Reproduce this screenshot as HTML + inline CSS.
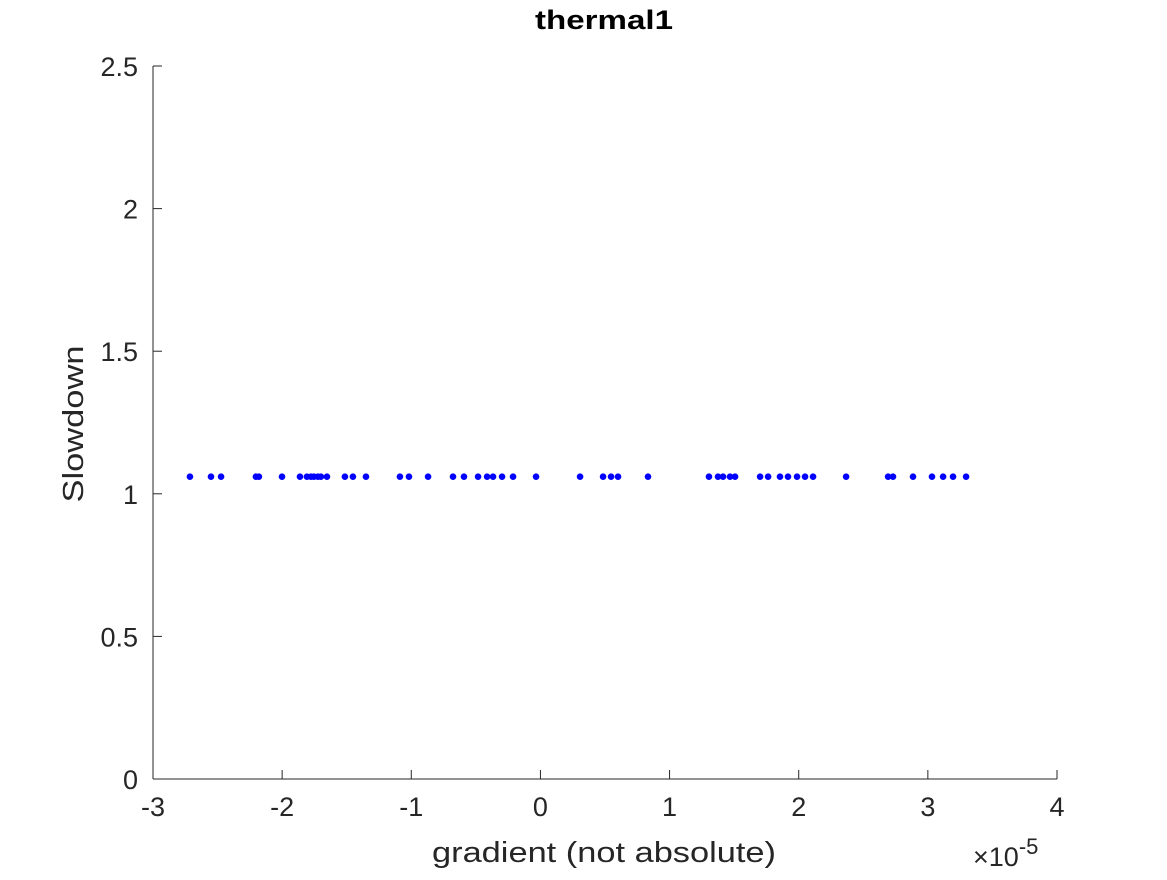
<!DOCTYPE html>
<html><head><meta charset="utf-8"><style>
body{margin:0;background:#fff;width:1167px;height:875px;overflow:hidden}
svg text{font-family:"Liberation Sans",Helvetica,Arial,sans-serif;fill:#262626}
</style></head><body>
<svg id="chart" width="1167" height="875" xmlns="http://www.w3.org/2000/svg">
<rect width="1167" height="875" fill="#fff"/>
<g id="axes"></g>
<g id="pts"></g>
<text x="604" y="29" text-anchor="middle" font-size="27" font-weight="bold" textLength="138" lengthAdjust="spacingAndGlyphs" style="fill:#000">thermal1</text>
<text x="604" y="862" text-anchor="middle" font-size="29" textLength="344" lengthAdjust="spacingAndGlyphs">gradient (not absolute)</text>
<text transform="translate(83,424) rotate(-90)" text-anchor="middle" font-size="29" textLength="157" lengthAdjust="spacingAndGlyphs">Slowdown</text>
<text x="973" y="866" font-size="27">×10<tspan dy="-12" font-size="22">-5</tspan></text>
</svg>
<script>
const xs=[-2.714,-2.551,-2.473,-2.203,-2.180,-2.001,-1.862,-1.808,-1.777,-1.754,-1.723,-1.700,-1.653,-1.514,-1.452,-1.351,-1.088,-1.018,-0.870,-0.677,-0.592,-0.483,-0.413,-0.367,-0.297,-0.212,-0.034,0.307,0.485,0.547,0.601,0.833,1.305,1.375,1.414,1.468,1.507,1.701,1.763,1.855,1.917,1.987,2.049,2.111,2.367,2.692,2.730,2.885,3.032,3.118,3.195,3.296];
const ys=[1.06];
const xTicks=[-3,-2,-1,0,1,2,3,4];
const yTicks=[0,0.5,1,1.5,2,2.5];
const X0=153,X1=1057,Y0=779,Y1=66;
const sx=v=>X0+(v+3)/7*(X1-X0);
const sy=v=>Y0-v/2.5*(Y0-Y1);
const NS="http://www.w3.org/2000/svg";
const ax=document.getElementById('axes');
function mk(t,a,p){const e=document.createElementNS(NS,t);for(const k in a)e.setAttribute(k,a[k]);p.appendChild(e);return e;}
let l=mk('line',{x1:X0,y1:Y0,x2:X1,y2:Y0,stroke:'#262626','stroke-width':1},ax);


l=mk('line',{x1:X0,y1:Y0,x2:X0,y2:Y1,stroke:'#262626','stroke-width':1},ax);


xTicks.forEach(v=>{const x=sx(v);
 const t=mk('line',{x1:x,y1:Y0,x2:x,y2:Y0-9,stroke:'#262626'},ax);
 
 
 const tx=mk('text',{x:x,y:Y0+37,'text-anchor':'middle','font-size':'27'},ax);tx.textContent=v;
 
 });
yTicks.forEach(v=>{const y=sy(v);
 const t=mk('line',{x1:X0,y1:y,x2:X0+9,y2:y,stroke:'#262626'},ax);
 
 
 const tx=mk('text',{x:X0-15,y:y+10,'text-anchor':'end','font-size':'27'},ax);tx.textContent=v;
 
 });
const pg=document.getElementById('pts');
xs.forEach((v,i)=>{const c=mk('circle',{cx:sx(v),cy:sy(ys[i]!==undefined?ys[i]:ys[0]),r:3.3,fill:'#0000ff'},pg);
 
 });
</script>
</body></html>
